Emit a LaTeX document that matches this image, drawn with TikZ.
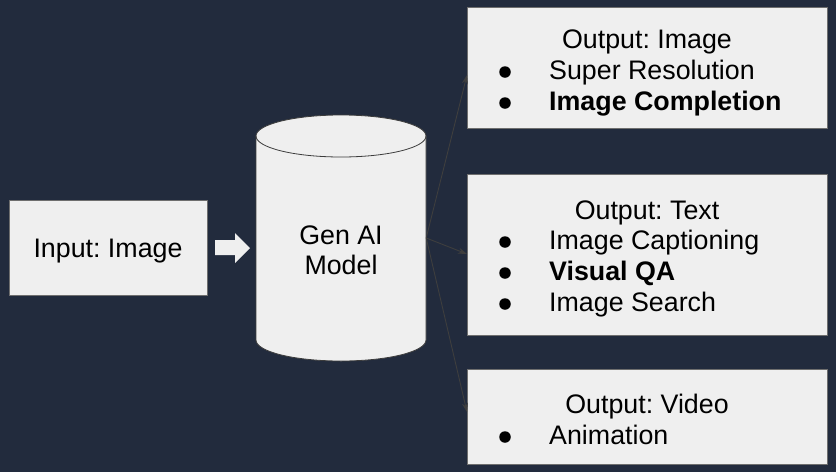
\documentclass[tikz,border=0pt]{standalone}
\usepackage{fontspec}
\setmainfont{Liberation Sans}
\usetikzlibrary{arrows.meta}
\definecolor{bg}{RGB}{34,43,61}
\definecolor{boxfill}{RGB}{239,239,239}
\definecolor{boxline}{RGB}{110,110,110}
\definecolor{connc}{RGB}{62,62,62}
\definecolor{cylline}{RGB}{60,60,60}
\begin{document}
\frenchspacing
\begin{tikzpicture}[x=1pt,y=-1pt,
  box/.style={draw=boxline, line width=0.8pt, fill=boxfill, inner sep=0pt, anchor=north west},
  txt/.style={font=\fontsize{26.8}{31}\selectfont, inner sep=0pt, anchor=base},
  itm/.style={txt, anchor=base west},
  bul/.style={circle, fill=black, inner sep=0pt, minimum size=11.5pt},
  connector/.style={draw=connc, line width=0.9pt, -{Stealth[length=9pt,width=6pt]}}]
\fill[bg] (0,0) rectangle (836,472);
\useasboundingbox (0,0) rectangle (836,472);

% input box
\node[box, minimum width=198pt, minimum height=95pt] (in) at (9,200) {};
\node[txt] (intxt) at (108,257) {Input: Image};

% block arrow
\fill[boxfill] (215,240) -- (235,240) -- (235,233) -- (250,248) -- (235,263) -- (235,255) -- (215,255) -- cycle;

% cylinder
\node[minimum width=170pt, minimum height=200pt, inner sep=0pt] (gen) at (341,238) {};
\filldraw[fill=boxfill, draw=cylline, line width=0.8pt]
  (256,136) -- (256,340) arc[start angle=180, end angle=0, x radius=85, y radius=21]
  -- (426,136) arc[start angle=0, end angle=-180, x radius=85, y radius=21] -- cycle;
\draw[cylline, line width=0.8pt] (256,136) arc[start angle=180, end angle=0, x radius=85, y radius=21];
\node[txt] (gen1) at (341,244) {Gen AI};
\node[txt] (gen2) at (341,274) {Model};

% output boxes
\node[box, minimum width=360pt, minimum height=121pt] (o1) at (467,7) {};
\node[box, minimum width=360pt, minimum height=161pt] (o2) at (467,174) {};
\node[box, minimum width=360pt, minimum height=95pt] (o3) at (467,369) {};

% box 1 text
\node[txt] (o1t) at (647,48) {Output: Image};
\node[bul] (o1b1) at (505,72) {};
\node[itm] (o1i1) at (549,79) {Super Resolution};
\node[bul] (o1b2) at (505,103) {};
\node[itm] (o1i2) at (549,110) {\bfseries Image Completion};

% box 2 text
\node[txt] (o2t) at (647,219) {Output: Text};
\node[bul] (o2b1) at (505,242) {};
\node[itm] (o2i1) at (549,249) {Image Captioning};
\node[bul] (o2b2) at (505,273) {};
\node[itm] (o2i2) at (549,280) {\bfseries Visual QA};
\node[bul] (o2b3) at (505,304) {};
\node[itm] (o2i3) at (549,311) {Image Search};

% box 3 text
\node[txt] (o3t) at (647,413) {Output: Video};
\node[bul] (o3b1) at (505,437) {};
\node[itm] (o3i1) at (549,444) {Animation};

% connectors
\coordinate (e1) at (467,75);
\coordinate (e2) at (467,254);
\coordinate (e3) at (467,412);
\draw[connector] (gen.east) -- (e1);
\draw[connector] (gen.east) -- (e2);
\draw[connector] (gen.east) -- (e3);
\end{tikzpicture}
\end{document}
